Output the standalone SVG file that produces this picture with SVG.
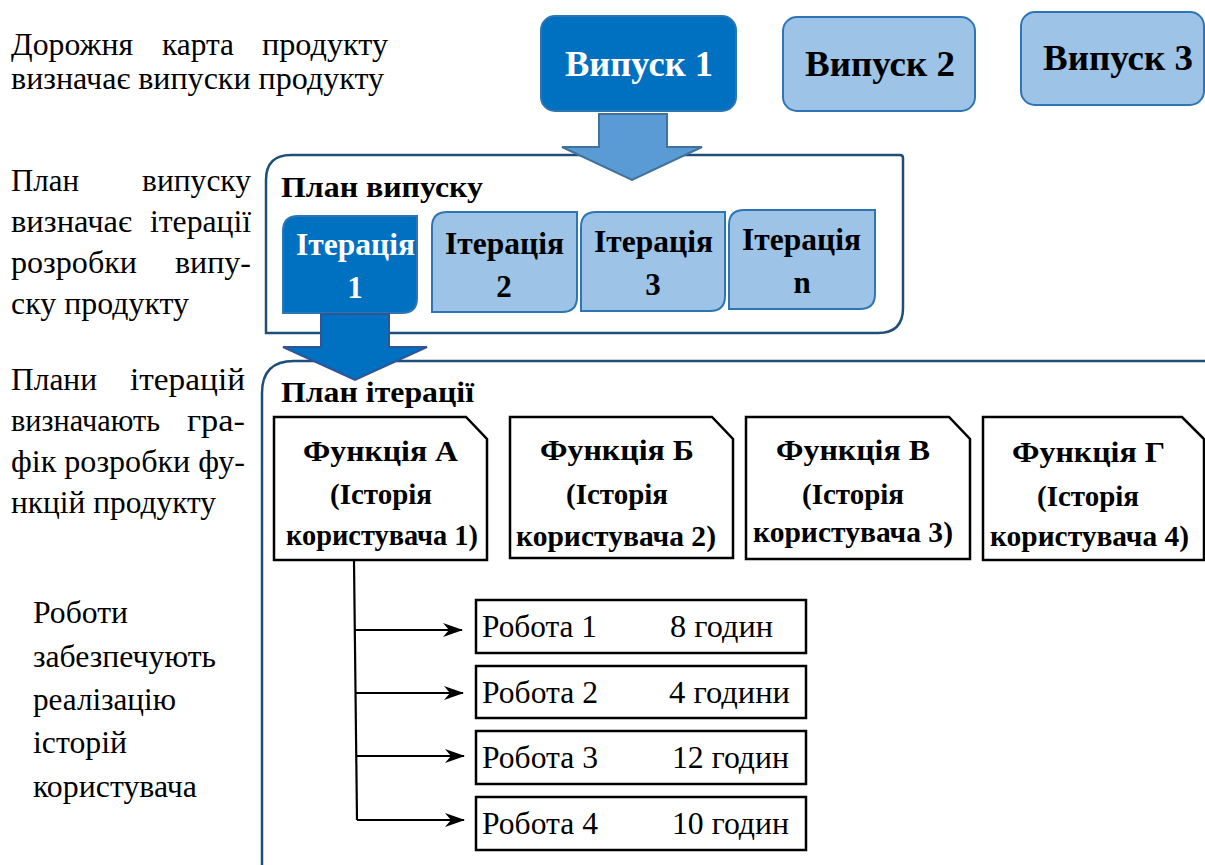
<svg xmlns="http://www.w3.org/2000/svg" width="1205" height="865" viewBox="0 0 1205 865">
  <defs>
    <marker id="stealth" viewBox="0 0 20 14" refX="19" refY="7" markerWidth="20" markerHeight="14" markerUnits="userSpaceOnUse" orient="auto">
      <path d="M0,0 L20,7 L0,14 L6,7 Z" fill="#000"/>
    </marker>
  </defs>

  <!-- explanatory notes on the left (widths fixed so the justified lines keep their edges) -->
  <g id="notes" fill="#000">
    <text font-family="Liberation Serif" font-size="31" x="11" y="55" textLength="122" lengthAdjust="spacingAndGlyphs">Дорожня</text>
    <text font-family="Liberation Serif" font-size="31" x="162" y="55" textLength="72" lengthAdjust="spacingAndGlyphs">карта</text>
    <text font-family="Liberation Serif" font-size="31" x="262" y="55" textLength="126" lengthAdjust="spacingAndGlyphs">продукту</text>
    <text font-family="Liberation Serif" font-size="31" x="11" y="89" textLength="373" lengthAdjust="spacingAndGlyphs">визначає випуски продукту</text>

    <text font-family="Liberation Serif" font-size="31" x="11" y="191" textLength="68" lengthAdjust="spacingAndGlyphs">План</text>
    <text font-family="Liberation Serif" font-size="31" x="142" y="191" textLength="109" lengthAdjust="spacingAndGlyphs">випуску</text>
    <text font-family="Liberation Serif" font-size="31" x="11" y="232" textLength="121" lengthAdjust="spacingAndGlyphs">визначає</text>
    <text font-family="Liberation Serif" font-size="31" x="150" y="232" textLength="101" lengthAdjust="spacingAndGlyphs">ітерації</text>
    <text font-family="Liberation Serif" font-size="31" x="11" y="273" textLength="126" lengthAdjust="spacingAndGlyphs">розробки</text>
    <text font-family="Liberation Serif" font-size="31" x="175" y="273" textLength="76" lengthAdjust="spacingAndGlyphs">випу-</text>
    <text font-family="Liberation Serif" font-size="31" x="11" y="314" textLength="178" lengthAdjust="spacingAndGlyphs">ску продукту</text>

    <text font-family="Liberation Serif" font-size="31" x="11" y="390" textLength="86" lengthAdjust="spacingAndGlyphs">Плани</text>
    <text font-family="Liberation Serif" font-size="31" x="130" y="390" textLength="115" lengthAdjust="spacingAndGlyphs">ітерацій</text>
    <text font-family="Liberation Serif" font-size="31" x="11" y="431" textLength="149" lengthAdjust="spacingAndGlyphs">визначають</text>
    <text font-family="Liberation Serif" font-size="31" x="187" y="431" textLength="58" lengthAdjust="spacingAndGlyphs">гра-</text>
    <text font-family="Liberation Serif" font-size="31" x="11" y="472" textLength="234" lengthAdjust="spacingAndGlyphs">фік розробки фу-</text>
    <text font-family="Liberation Serif" font-size="31" x="11" y="513" textLength="205" lengthAdjust="spacingAndGlyphs">нкцій продукту</text>

    <text font-family="Liberation Serif" font-size="31" x="33" y="623" textLength="95" lengthAdjust="spacingAndGlyphs">Роботи</text>
    <text font-family="Liberation Serif" font-size="31" x="33" y="667" textLength="183" lengthAdjust="spacingAndGlyphs">забезпечують</text>
    <text font-family="Liberation Serif" font-size="31" x="33" y="710" textLength="143" lengthAdjust="spacingAndGlyphs">реалізацію</text>
    <text font-family="Liberation Serif" font-size="31" x="33" y="753" textLength="94" lengthAdjust="spacingAndGlyphs">історій</text>
    <text font-family="Liberation Serif" font-size="31" x="33" y="797" textLength="164" lengthAdjust="spacingAndGlyphs">користувача</text>
  </g>

  <!-- containers -->
  <g id="release-plan">
    <path d="M266,180 Q266,155 291,155 L900,155 Q903,155 903,158 L903,308 Q903,333 878,333 L266,333 Z" fill="#fff" stroke="#1F4E79" stroke-width="2.5"/>
    <text font-family="Liberation Serif" font-size="30" font-weight="bold" x="281" y="197" textLength="202" lengthAdjust="spacingAndGlyphs">План випуску</text>
  </g>
  <g id="iteration-plan">
    <path d="M262,875 L262,393 Q262,361 294,361 L1215,361" fill="none" stroke="#1F4E79" stroke-width="2.5"/>
    <text font-family="Liberation Serif" font-size="30" font-weight="bold" x="281" y="402" textLength="193" lengthAdjust="spacingAndGlyphs">План ітерації</text>
  </g>

  <!-- releases -->
  <g id="release-1">
    <rect x="541" y="16" width="195" height="95" rx="14" fill="#0070C0" stroke="#2E75B6" stroke-width="2"/>
    <text font-family="Liberation Serif" font-size="36" font-weight="bold" fill="#fff" x="565" y="76" textLength="148" lengthAdjust="spacingAndGlyphs">Випуск 1</text>
  </g>
  <g id="release-2">
    <rect x="783" y="17" width="192" height="94" rx="14" fill="#9DC3E6" stroke="#2E75B6" stroke-width="2"/>
    <text font-family="Liberation Serif" font-size="36" font-weight="bold" x="805" y="76" textLength="150" lengthAdjust="spacingAndGlyphs">Випуск 2</text>
  </g>
  <g id="release-3">
    <rect x="1021" y="12" width="183" height="93" rx="14" fill="#9DC3E6" stroke="#2E75B6" stroke-width="2"/>
    <text font-family="Liberation Serif" font-size="36" font-weight="bold" x="1043" y="70" textLength="150" lengthAdjust="spacingAndGlyphs">Випуск 3</text>
  </g>

  <!-- iterations -->
  <g id="iteration-1">
    <path d="M283,231 Q283,216 298,216 L417,216 L417,298 Q417,313 402,313 L283,313 Z" fill="#0070C0" stroke="#2E75B6" stroke-width="2"/>
    <text font-family="Liberation Serif" font-size="31" font-weight="bold" fill="#fff" x="296" y="255" textLength="119" lengthAdjust="spacingAndGlyphs">Ітерація</text>
    <text font-family="Liberation Serif" font-size="31" font-weight="bold" fill="#fff" text-anchor="middle" x="355" y="298">1</text>
  </g>
  <g id="iteration-2">
    <path d="M432,227 Q432,212 447,212 L577,212 L577,297 Q577,312 562,312 L432,312 Z" fill="#9DC3E6" stroke="#2E75B6" stroke-width="2"/>
    <text font-family="Liberation Serif" font-size="31" font-weight="bold" x="445" y="254" textLength="119" lengthAdjust="spacingAndGlyphs">Ітерація</text>
    <text font-family="Liberation Serif" font-size="31" font-weight="bold" text-anchor="middle" x="504" y="297">2</text>
  </g>
  <g id="iteration-3">
    <path d="M581,227 Q581,212 596,212 L725,212 L725,296 Q725,311 710,311 L581,311 Z" fill="#9DC3E6" stroke="#2E75B6" stroke-width="2"/>
    <text font-family="Liberation Serif" font-size="31" font-weight="bold" x="594" y="252" textLength="119" lengthAdjust="spacingAndGlyphs">Ітерація</text>
    <text font-family="Liberation Serif" font-size="31" font-weight="bold" text-anchor="middle" x="653" y="295">3</text>
  </g>
  <g id="iteration-n">
    <path d="M729,225 Q729,210 744,210 L875,210 L875,294 Q875,309 860,309 L729,309 Z" fill="#9DC3E6" stroke="#2E75B6" stroke-width="2"/>
    <text font-family="Liberation Serif" font-size="31" font-weight="bold" x="742" y="250" textLength="119" lengthAdjust="spacingAndGlyphs">Ітерація</text>
    <text font-family="Liberation Serif" font-size="31" font-weight="bold" text-anchor="middle" x="802" y="293">n</text>
  </g>

  <!-- block arrows -->
  <g id="arrow-release">
    <path d="M599,114 L667,114 L667,147 L702,147 L632,180 L562,147 L599,147 Z" fill="#5B9BD5" stroke="#41719C" stroke-width="2"/>
  </g>
  <g id="arrow-iteration">
    <path d="M321,314 L389,314 L389,347 L427,347 L355,380 L283,347 L321,347 Z" fill="#0070C0" stroke="#2F5597" stroke-width="2"/>
  </g>

  <!-- user story features -->
  <g id="feature-a">
    <path d="M274,417 L466,417 L487,439 L487,560 L274,560 Z" fill="#fff" stroke="#000" stroke-width="2.5"/>
    <text font-family="Liberation Serif" font-size="30" font-weight="bold" x="303" y="461" textLength="155" lengthAdjust="spacingAndGlyphs">Функція А</text>
    <text font-family="Liberation Serif" font-size="30" font-weight="bold" x="330" y="504" textLength="102" lengthAdjust="spacingAndGlyphs">(Історія</text>
    <text font-family="Liberation Serif" font-size="30" font-weight="bold" x="286" y="545" textLength="192" lengthAdjust="spacingAndGlyphs">користувача 1)</text>
  </g>
  <g id="feature-b">
    <path d="M510,417 L712,417 L733,439 L733,558 L510,558 Z" fill="#fff" stroke="#000" stroke-width="2.5"/>
    <text font-family="Liberation Serif" font-size="30" font-weight="bold" x="540" y="460" textLength="154" lengthAdjust="spacingAndGlyphs">Функція Б</text>
    <text font-family="Liberation Serif" font-size="30" font-weight="bold" x="566" y="504" textLength="102" lengthAdjust="spacingAndGlyphs">(Історія</text>
    <text font-family="Liberation Serif" font-size="30" font-weight="bold" x="516" y="546" textLength="200" lengthAdjust="spacingAndGlyphs">користувача 2)</text>
  </g>
  <g id="feature-c">
    <path d="M746,417 L949,417 L970,439 L970,559 L746,559 Z" fill="#fff" stroke="#000" stroke-width="2.5"/>
    <text font-family="Liberation Serif" font-size="30" font-weight="bold" x="776" y="460" textLength="154" lengthAdjust="spacingAndGlyphs">Функція В</text>
    <text font-family="Liberation Serif" font-size="30" font-weight="bold" x="802" y="504" textLength="102" lengthAdjust="spacingAndGlyphs">(Історія</text>
    <text font-family="Liberation Serif" font-size="30" font-weight="bold" x="753" y="542" textLength="200" lengthAdjust="spacingAndGlyphs">користувача 3)</text>
  </g>
  <g id="feature-d">
    <path d="M983,417 L1182,417 L1204,439 L1204,560 L983,560 Z" fill="#fff" stroke="#000" stroke-width="2.5"/>
    <text font-family="Liberation Serif" font-size="30" font-weight="bold" x="1012" y="462" textLength="153" lengthAdjust="spacingAndGlyphs">Функція Г</text>
    <text font-family="Liberation Serif" font-size="30" font-weight="bold" x="1037" y="506" textLength="102" lengthAdjust="spacingAndGlyphs">(Історія</text>
    <text font-family="Liberation Serif" font-size="30" font-weight="bold" x="990" y="546" textLength="199" lengthAdjust="spacingAndGlyphs">користувача 4)</text>
  </g>

  <!-- tasks -->
  <g id="task-1">
    <rect x="476" y="600" width="330" height="53" fill="#fff" stroke="#000" stroke-width="2.5"/>
    <text font-family="Liberation Serif" font-size="31" x="482" y="637" textLength="115" lengthAdjust="spacingAndGlyphs">Робота 1</text>
    <text font-family="Liberation Serif" font-size="31" x="670" y="637" textLength="103" lengthAdjust="spacingAndGlyphs">8 годин</text>
  </g>
  <g id="task-2">
    <rect x="476" y="666" width="330" height="52" fill="#fff" stroke="#000" stroke-width="2.5"/>
    <text font-family="Liberation Serif" font-size="31" x="482" y="703" textLength="116" lengthAdjust="spacingAndGlyphs">Робота 2</text>
    <text font-family="Liberation Serif" font-size="31" x="669" y="703" textLength="121" lengthAdjust="spacingAndGlyphs">4 години</text>
  </g>
  <g id="task-3">
    <rect x="476" y="731" width="330" height="53" fill="#fff" stroke="#000" stroke-width="2.5"/>
    <text font-family="Liberation Serif" font-size="31" x="482" y="768" textLength="116" lengthAdjust="spacingAndGlyphs">Робота 3</text>
    <text font-family="Liberation Serif" font-size="31" x="672" y="768" textLength="117" lengthAdjust="spacingAndGlyphs">12 годин</text>
  </g>
  <g id="task-4">
    <rect x="476" y="797" width="330" height="53" fill="#fff" stroke="#000" stroke-width="2.5"/>
    <text font-family="Liberation Serif" font-size="31" x="482" y="834" textLength="116" lengthAdjust="spacingAndGlyphs">Робота 4</text>
    <text font-family="Liberation Serif" font-size="31" x="672" y="834" textLength="117" lengthAdjust="spacingAndGlyphs">10 годин</text>
  </g>

  <!-- connectors from feature A to its tasks -->
  <g id="connectors" fill="none" stroke="#000" stroke-width="2.2">
    <path d="M354,561 L357,820"/>
    <path d="M355,630 L462,630" marker-end="url(#stealth)"/>
    <path d="M356,693 L463,693" marker-end="url(#stealth)"/>
    <path d="M356,756 L464,756" marker-end="url(#stealth)"/>
    <path d="M357,820 L464,820" marker-end="url(#stealth)"/>
  </g>
</svg>
